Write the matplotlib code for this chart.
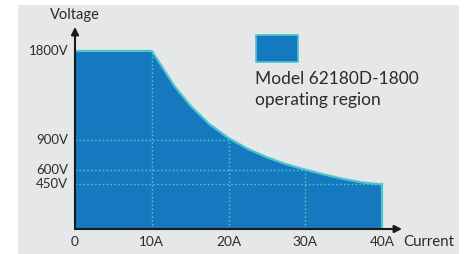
import matplotlib
matplotlib.use("Agg")
import matplotlib.pyplot as plt
from matplotlib.patches import Rectangle

plt.rcParams['font.family'] = ['Lato', 'DejaVu Sans']

# data
current = [0, 10, 11.5, 13, 15, 17.5, 20, 22.5, 25, 27.5, 30, 32.5, 35, 37.5, 40]
voltage = [1800, 1800, 1620, 1440, 1250, 1060, 920, 810, 725, 655, 600, 550, 505, 470, 450]
x_ticks = [0, 10, 20, 30, 40]
x_labels = ["0", "10A", "20A", "30A", "40A"]
y_ticks = [1800, 900, 600, 450]
y_labels = ["1800V", "900V", "600V", "450V"]
grid_v = [(10, 1800), (20, 920), (30, 600)]
grid_h = [(900, 20.3), (600, 30), (450, 40)]
legend_lines = ["Model 62180D-1800", "operating region"]

W, H = 465, 254
fig = plt.figure(figsize=(W / 100, H / 100), dpi=100, facecolor='white')
fig.patches.append(Rectangle((18 / W, 0), (459 - 18) / W, (254 - 5) / H,
                             transform=fig.transFigure, facecolor='#e6e7e8',
                             edgecolor='none', zorder=-10))

ax = fig.add_axes([75 / W, (254 - 229) / H, (402 - 75) / W, (229 - 27) / H])
ax.set_zorder(5)
ax.set_facecolor('none')
ax.patch.set_alpha(0)
ax.set_xlim(0, 42.6)
ax.set_ylim(0, 2042)
for s in ax.spines.values():
    s.set_visible(False)

fill_col = '#1579bf'
edge_col = '#4cc6cc'
xs = list(current) + [current[-1], 0]
ys = list(voltage) + [0, 0]
ax.fill(xs, ys, facecolor=fill_col, edgecolor='none', zorder=1)
ax.plot(current, voltage, color=edge_col, lw=1.6, zorder=3, solid_capstyle='butt',
        solid_joinstyle='round')
ax.plot([current[-1], current[-1]], [voltage[-1], 0], color=edge_col, lw=1.6, zorder=3)

for x, top in grid_v:
    ax.plot([x, x], [0, top], color=edge_col, lw=1.0, ls=(0, (1.2, 1.6)), zorder=2)
for y, right in grid_h:
    ax.plot([0, right], [y, y], color=edge_col, lw=1.0, ls=(0, (1.2, 1.6)), zorder=2)

# axes arrows
ax.annotate('', xy=(42.6, 0), xytext=(0, 0),
            arrowprops=dict(arrowstyle='-|>', color='#1a1a1a', lw=1.5,
                            mutation_scale=11, shrinkA=0, shrinkB=0),
            annotation_clip=False, zorder=5)
ax.annotate('', xy=(0, 2042), xytext=(0, 0),
            arrowprops=dict(arrowstyle='-|>', color='#1a1a1a', lw=1.5,
                            mutation_scale=11, shrinkA=0, shrinkB=0),
            annotation_clip=False, zorder=5)

ax.set_xticks([])
ax.set_yticks([])
tc = '#2b2b2b'
for x, lab in zip(x_ticks, x_labels):
    ax.text(x, -135, lab, ha='center', va='center', fontsize=9.8, color=tc)
for y, lab in zip(y_ticks, y_labels):
    ax.text(-0.9, y, lab, ha='right', va='center', fontsize=9.5, color=tc)
ax.text(0, 2160, "Voltage", ha='center', va='center', fontsize=10.5, color=tc)
ax.text(42.8, -135, "Current", ha='left', va='center', fontsize=10.8, color=tc)

# legend
fig.patches.append(Rectangle((256 / W, (254 - 62) / H), 42 / W, 27 / H,
                             transform=fig.transFigure, facecolor=fill_col,
                             edgecolor=edge_col, lw=1.2, zorder=2))
fig.text(255 / W, (254 - 79) / H, legend_lines[0], ha='left', va='center',
         fontsize=12.5, color=tc)
fig.text(255 / W, (254 - 100) / H, legend_lines[1], ha='left', va='center',
         fontsize=12.5, color=tc)

fig.savefig('out.png', dpi=100, facecolor='white')
